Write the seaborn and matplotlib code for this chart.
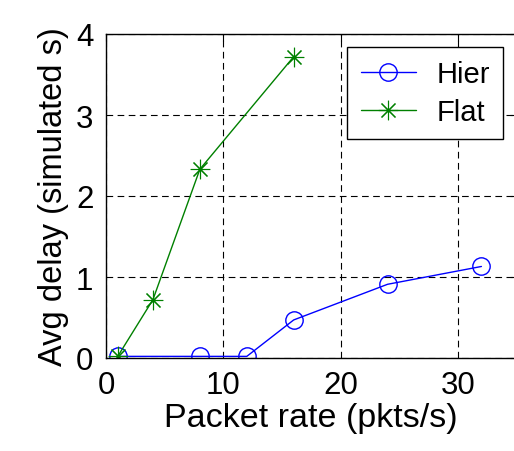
import matplotlib
matplotlib.use("Agg")
import matplotlib.pyplot as plt
import seaborn as sns
import pandas as pd

hier_x = [1, 8, 12, 16, 24, 32]
hier_y = [0.02, 0.02, 0.02, 0.47, 0.91, 1.13]
flat_x = [1, 4, 8, 16]
flat_y = [0.02, 0.72, 2.33, 3.72]
x_ticks = [0, 10, 20, 30]
y_ticks = [0, 1, 2, 3, 4]

sns.set_style("white")
plt.rcParams['font.family'] = ['Liberation Sans', 'DejaVu Sans']
plt.rcParams['text.color'] = 'black'
plt.rcParams['axes.labelcolor'] = 'black'

fig = plt.figure(figsize=(5.14, 4.52), dpi=100)
ax = fig.add_axes([106/514, 93/452, 410.6/514, 324/452])

df_h = pd.DataFrame({"x": hier_x, "y": hier_y})
df_f = pd.DataFrame({"x": flat_x, "y": flat_y})

sns.lineplot(data=df_h, x="x", y="y", ax=ax, color="#0000ff", lw=1,
             marker="o", markersize=12.5, markerfacecolor="none",
             markeredgecolor="#0000ff", markeredgewidth=1, label="Hier")
sns.lineplot(data=df_f, x="x", y="y", ax=ax, color="#008000", lw=1,
             marker=(8, 2, 0), markersize=14, markeredgecolor="#008000",
             markeredgewidth=0.8, label="Flat")

ax.set_xlim(0, 35)
ax.set_ylim(0, 4)
ax.set_xticks(x_ticks)
ax.set_yticks(y_ticks)
ax.grid(True, color="black", linestyle=(0, (6, 4)), linewidth=0.8)
for s in ax.spines.values():
    s.set_color("black")
    s.set_linewidth(1)
ax.tick_params(direction="in", length=5, width=0.8, top=True, right=True,
               labelsize=22.5, pad=9, colors="black")
ax.set_xlabel("Packet rate (pkts/s)", fontsize=24.5, labelpad=1)
ax.set_ylabel("Avg delay (simulated s)", fontsize=23.5, labelpad=5)

leg = ax.legend(loc="upper right", bbox_to_anchor=(503/514, 1-48/452),
                bbox_transform=fig.transFigure, fontsize=21, frameon=True,
                fancybox=False, edgecolor="black", framealpha=1,
                handlelength=1.9, borderpad=0.45, labelspacing=0.33,
                handletextpad=0.7, borderaxespad=0)
leg.get_frame().set_linewidth(1)

fig.savefig("out.png", dpi=100)
